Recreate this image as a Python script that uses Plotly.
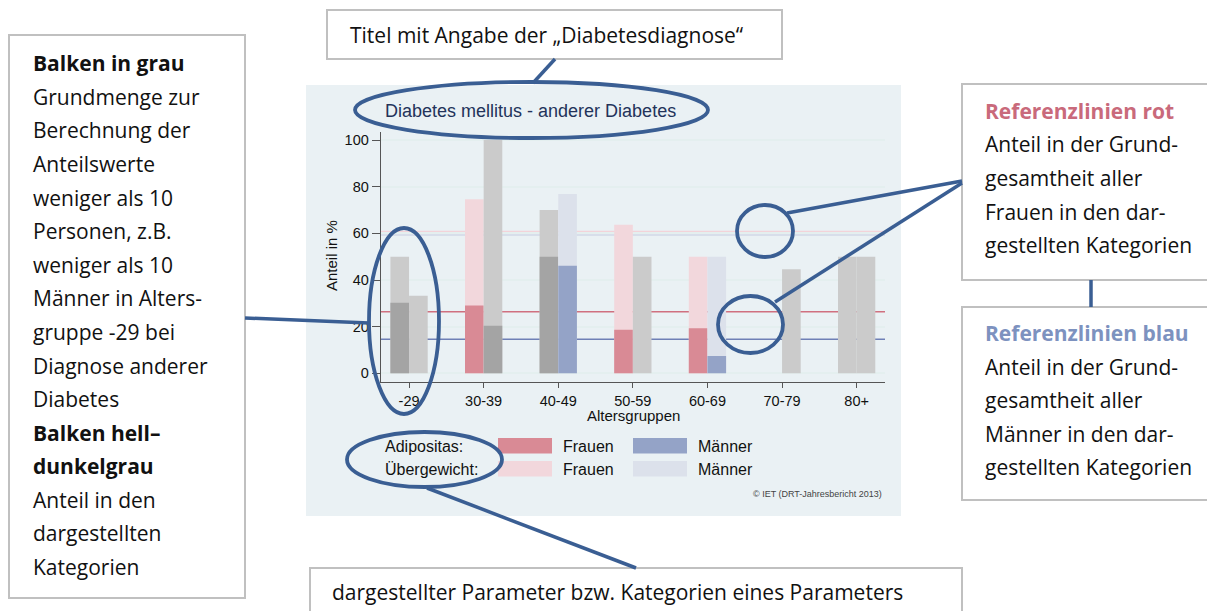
import plotly.graph_objects as go

# the page body has an 8px margin, so the figure is 8px smaller and all
# coordinates below (in screenshot pixels) are shifted by that offset
OFF = 8
W, H = 1215 - OFF, 611 - OFF

# Data
categories = ["-29", "30-39", "40-49", "50-59", "60-69", "70-79", "80+"]
frauen_uebergewicht = [50, 74.6, 70, 63.7, 50, 0, 50]
frauen_adipositas = [30.3, 29.1, 50, 18.7, 19.3, 0, 0]
maenner_uebergewicht = [33.3, 100, 76.9, 50, 50, 44.6, 50]
maenner_adipositas = [0, 20.4, 46.1, 0, 7.4, 0, 0]
# fewer than 10 persons -> grey bars
frauen_wenige = [True, False, True, False, False, True, True]
maenner_wenige = [True, True, False, True, False, True, True]

ref_frauen_adipositas = 26.4
ref_frauen_uebergewicht = 60.7
ref_maenner_adipositas = 14.6
ref_maenner_uebergewicht = 59.3

y_ticks = [0, 20, 40, 60, 80, 100]

left_lines = ["Balken in grau", "Grundmenge zur", "Berechnung der", "Anteilswerte",
              "weniger als 10", "Personen, z.B.", "weniger als 10", "Männer in Alters-",
              "gruppe -29 bei", "Diagnose anderer", "Diabetes", "Balken hell–",
              "dunkelgrau", "Anteil in den", "dargestellten", "Kategorien"]
left_bold = ["Balken in grau", "Balken hell–", "dunkelgrau"]
rot_lines = ["Referenzlinien rot", "Anteil in der Grund-", "gesamtheit aller",
             "Frauen in den dar-", "gestellten Kategorien"]
blau_lines = ["Referenzlinien blau", "Anteil in der Grund-", "gesamtheit aller",
              "Männer in den dar-", "gestellten Kategorien"]

# colours
ROT, ROSA = "#d98a95", "#f2d7dc"
BLAU, HELLBLAU = "#94a3c7", "#dce1eb"
GRAU_HELL, GRAU_DUNKEL = "#cbcbcb", "#a4a4a4"
LINIE = "#3a5e93"
BOX = "#c0c0c0"
TXT_FONT = "Open Sans"
TXT_SIZE = 21
CHART_FONT = "Liberation Sans"


def px(x):
    return (x - OFF) / W


def py(y):
    return 1 - (y - OFF) / H


def colors(base, flags, grey):
    return [grey if f else base for f in flags]


fig = go.Figure()

bar_w = 0.25
fig.add_trace(go.Bar(x=categories, y=frauen_uebergewicht, offset=-bar_w, width=bar_w,
                     marker=dict(color=colors(ROSA, frauen_wenige, GRAU_HELL), line_width=0)))
fig.add_trace(go.Bar(x=categories, y=frauen_adipositas, offset=-bar_w, width=bar_w,
                     marker=dict(color=colors(ROT, frauen_wenige, GRAU_DUNKEL), line_width=0)))
fig.add_trace(go.Bar(x=categories, y=maenner_uebergewicht, offset=0, width=bar_w,
                     marker=dict(color=colors(HELLBLAU, maenner_wenige, GRAU_HELL), line_width=0)))
fig.add_trace(go.Bar(x=categories, y=maenner_adipositas, offset=0, width=bar_w,
                     marker=dict(color=colors(BLAU, maenner_wenige, GRAU_DUNKEL), line_width=0)))

shapes = []
# chart panel background
shapes.append(dict(type="rect", xref="paper", yref="paper", layer="below",
                   x0=px(306), x1=px(901), y0=py(516), y1=py(85),
                   fillcolor="#eaf1f4", line_width=0))

# reference lines
for val, col, w in [(ref_frauen_uebergewicht, "#f3d3d9", 2), (ref_maenner_uebergewicht, "#d8deea", 2),
                    (ref_frauen_adipositas, "#d0707f", 1.3), (ref_maenner_adipositas, "#6f80b6", 1.3)]:
    shapes.append(dict(type="line", xref="x domain", yref="y", layer="below",
                       x0=0, x1=1, y0=val, y1=val, line=dict(color=col, width=w)))

# legend swatches
for x0, y0, col in [(498, 438, ROT), (498, 461, ROSA), (633, 438, BLAU), (633, 461, HELLBLAU)]:
    shapes.append(dict(type="rect", xref="paper", yref="paper",
                       x0=px(x0), x1=px(x0 + 54), y0=py(y0 + 15.5), y1=py(y0),
                       fillcolor=col, line_width=0))

# text boxes
for x0, y0, x1, y1 in [(327, 10, 782, 59), (9, 35, 245, 598), (962, 84, 1300, 280),
                       (962, 307, 1300, 500), (310, 568, 962, 650)]:
    shapes.append(dict(type="rect", xref="paper", yref="paper",
                       x0=px(x0), x1=px(x1), y0=py(y1), y1=py(y0),
                       fillcolor="white", line=dict(color=BOX, width=2)))

# connectors
for x0, y0, x1, y1 in [(555, 59, 533, 83), (245, 318, 369, 323), (787, 213, 962, 181),
                       (775, 302, 962, 183), (1091, 280, 1091, 307), (427, 488, 636, 568)]:
    shapes.append(dict(type="line", xref="paper", yref="paper",
                       x0=px(x0), x1=px(x1), y0=py(y0), y1=py(y1),
                       line=dict(color=LINIE, width=3.5)))

# ellipses
for x0, y0, x1, y1 in [(355, 82, 708, 138), (369, 228, 439, 414), (737, 205, 793, 257),
                       (718, 296, 783, 353), (347, 432, 502, 487)]:
    shapes.append(dict(type="circle", xref="paper", yref="paper",
                       x0=px(x0), x1=px(x1), y0=py(y1), y1=py(y0),
                       line=dict(color=LINIE, width=3.8)))

ann = []


def text(x, y, s, size, family=TXT_FONT, color="#111111", xanchor="left", **kw):
    ann.append(dict(x=px(x), y=py(y), xref="paper", yref="paper", text=s, showarrow=False,
                    xanchor=xanchor, yanchor="middle", font=dict(size=size, family=family, color=color),
                    **kw))


# chart texts
text(383, 111.5, "Diabetes mellitus - anderer Diabetes", 18, CHART_FONT, "#23335a")
text(331, 256, "Anteil in %", 15, CHART_FONT, "#111111", xanchor="center", textangle=-90)
text(633.5, 415, "Altersgruppen", 15, CHART_FONT, "#111111", xanchor="center")
text(383, 446, "Adipositas:", 16, CHART_FONT)
text(383, 469, "Übergewicht:", 16, CHART_FONT)
text(561, 446, "Frauen", 16, CHART_FONT)
text(561, 469, "Frauen", 16, CHART_FONT)
text(696, 446, "Männer", 16, CHART_FONT)
text(696, 469, "Männer", 16, CHART_FONT)
text(884, 494, "© IET (DRT-Jahresbericht 2013)", 9, CHART_FONT, "#444444", xanchor="right")

# explanation texts
text(348, 35, "Titel mit Angabe der „Diabetesdiagnose“", TXT_SIZE)
text(330, 592, "dargestellter Parameter bzw. Kategorien eines Parameters", TXT_SIZE)
for i, s in enumerate(left_lines):
    t = "<b>%s</b>" % s if s in left_bold else s
    text(31, 63.3 + i * 33.58, t, TXT_SIZE)
for i, s in enumerate(rot_lines):
    t = "<b>%s</b>" % s if i == 0 else s
    text(983, 110.7 + i * 33.6, t, TXT_SIZE, color="#c96a7b" if i == 0 else "#111111")
for i, s in enumerate(blau_lines):
    t = "<b>%s</b>" % s if i == 0 else s
    text(983, 333 + i * 33.6, t, TXT_SIZE, color="#7d92bf" if i == 0 else "#111111")

fig.update_layout(
    width=W, height=H, autosize=False,
    margin=dict(l=0, r=0, t=0, b=0),
    paper_bgcolor="white", plot_bgcolor="white",
    barmode="overlay", showlegend=False,
    shapes=shapes, annotations=ann,
    xaxis=dict(domain=[px(380.7), px(885)], range=[-0.38, 6.38],
               showline=True, linecolor="#555555", linewidth=1,
               ticks="outside", ticklen=5, tickcolor="#555555", showgrid=False,
               tickfont=dict(family=CHART_FONT, size=14.5, color="#111111")),
    yaxis=dict(domain=[py(382.3), py(131.7)], range=[-3.86, 103.6],
               tickvals=y_ticks, showline=True, linecolor="#555555", linewidth=1,
               ticks="outside", ticklen=8, tickcolor="#555555",
               showgrid=True, gridcolor="#e4efef", gridwidth=2, zeroline=False,
               tickfont=dict(family=CHART_FONT, size=14.5, color="#111111")),
)

fig.write_html("out.html")
